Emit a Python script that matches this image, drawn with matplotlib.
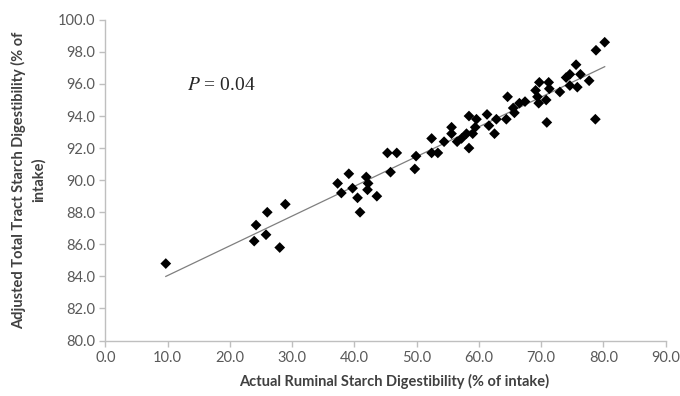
import matplotlib
matplotlib.use("Agg")
import matplotlib.pyplot as plt
import numpy as np

# Ruminal vs. adjusted total-tract starch digestibility (% of intake)
ruminal = [
    9.7, 24.2, 23.9, 26.0, 25.8, 28.9, 28.0,
    37.3, 37.9, 39.1, 39.7, 40.5, 40.9, 41.9, 42.1, 42.2, 43.6,
    45.3, 46.8, 45.8, 49.9, 49.7,
    52.4, 52.4, 53.4, 54.4, 55.6, 55.6, 56.5, 57.2, 58.0, 58.4, 58.4,
    59.0, 59.4, 59.6, 61.3, 61.6, 62.5, 62.8, 64.4, 64.6, 65.5, 65.7,
    66.5, 67.4, 69.1, 69.4, 69.7, 69.6, 70.8, 71.2, 71.3, 70.9, 73.0,
    74.0, 74.6, 74.6, 75.6, 76.3, 75.8, 77.7, 78.7, 78.8, 80.2,
]
total_tract = [
    84.8, 87.2, 86.2, 88.0, 86.6, 88.5, 85.8,
    89.8, 89.2, 90.4, 89.5, 88.9, 88.0, 90.2, 89.4, 89.8, 89.0,
    91.7, 91.7, 90.5, 91.5, 90.7,
    92.6, 91.7, 91.7, 92.4, 93.3, 92.9, 92.4, 92.6, 92.9, 92.0, 94.0,
    92.9, 93.3, 93.8, 94.1, 93.4, 92.9, 93.8, 93.8, 95.2, 94.5, 94.2,
    94.8, 94.9, 95.6, 95.2, 96.1, 94.8, 95.0, 96.1, 95.7, 93.6, 95.5,
    96.4, 96.6, 95.9, 97.2, 96.6, 95.8, 96.2, 93.8, 98.1, 98.6,
]

# Linear trend line
trend_intercept = 82.2
trend_slope = 0.1855

x_ticks = [0, 10, 20, 30, 40, 50, 60, 70, 80, 90]
y_ticks = [80, 82, 84, 86, 88, 90, 92, 94, 96, 98, 100]

plt.rcParams["font.family"] = ["Lato", "DejaVu Sans"]
plt.rcParams["mathtext.fontset"] = "stix"

fig = plt.figure(figsize=(6.8, 3.96), dpi=100)
ax = fig.add_axes([0.155, 0.140, 0.824, 0.810])

x = np.array(ruminal)
y = np.array(total_tract)

xl = np.array([x.min(), x.max()])
ax.plot(xl, trend_intercept + trend_slope * xl, color="#7f7f7f", lw=0.9, zorder=2)
ax.scatter(x, y, marker="D", s=30, color="black", edgecolors="none", zorder=3)

ax.set_xlim(0, 90)
ax.set_ylim(80, 100)
ax.set_xticks(x_ticks)
ax.set_yticks(y_ticks)
ax.set_xticklabels([f"{v:.1f}" for v in x_ticks])
ax.set_yticklabels([f"{v:.1f}" for v in y_ticks])

for side in ("top", "right"):
    ax.spines[side].set_visible(False)
for side in ("left", "bottom"):
    ax.spines[side].set_color("#bfbfbf")
    ax.spines[side].set_linewidth(1.0)

ax.tick_params(axis="both", colors="#bfbfbf", length=4, width=1.0,
               labelcolor="#595959", labelsize=10.5)

ax.set_xlabel("Actual Ruminal Starch Digestibility (% of intake)",
              fontsize=10.5, fontweight="bold", color="#404040")
ax.xaxis.set_label_coords(0.515, -0.105)
ax.set_ylabel("Adjusted Total Tract Starch Digestibility (% of\nintake)",
              fontsize=10.5, fontweight="bold", color="#404040",
              linespacing=1.45, ha="center")
ax.yaxis.set_label_coords(-0.107, 0.5)

ax.text(13.1, 95.9, "$P$ = 0.04", family="Liberation Serif", fontsize=14,
        color="#262626", va="center", ha="left")

fig.savefig("out.png", dpi=100)
